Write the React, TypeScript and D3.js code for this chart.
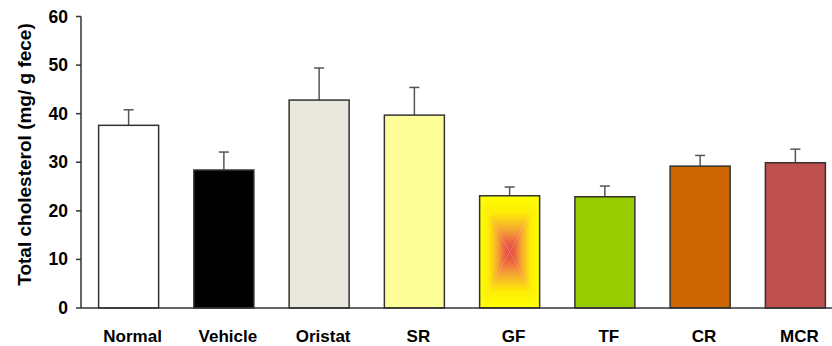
import React from "react";
import * as d3 from "d3";

const categories = ["Normal", "Vehicle", "Oristat", "SR", "GF", "TF", "CR", "MCR"];
const means = [37.6, 28.4, 42.8, 39.7, 23.1, 22.9, 29.2, 29.9];
const errors = [3.2, 3.7, 6.6, 5.7, 1.8, 2.2, 2.2, 2.8];
const colors = ["#ffffff", "#000000", "#eae8dc", "#ffff99", "url(#gfgrad)", "#99cc00", "#cc6600", "#c0504d"];
const yTicks = [0, 10, 20, 30, 40, 50, 60];

const W = 832, H = 346;
const left = 81, right = 843, top = 16.5, bottom = 308;

const stops = [
  { o: 0, c: "#ffff00" },
  { o: 0.3, c: "#fded05" },
  { o: 0.6, c: "#f6a832" },
  { o: 0.85, c: "#ec5e42" },
  { o: 1, c: "#e84848" },
];

function Grad({ id, x1, y1, x2, y2 }: { id: string; x1: string; y1: string; x2: string; y2: string }) {
  return (
    <linearGradient id={id} x1={x1} y1={y1} x2={x2} y2={y2}>
      {stops.map((s) => (
        <stop key={s.o} offset={s.o} stopColor={s.c} />
      ))}
    </linearGradient>
  );
}

export default function App() {
  const x = d3.scaleBand<string>().domain(categories).range([left, right]).paddingInner(0.37).paddingOuter(0.185);
  const y = d3.scaleLinear().domain([0, 60]).range([bottom, top]);
  const bw = x.bandwidth();
  const font = "Arial, 'Liberation Sans', sans-serif";
  return (
    <svg width={W} height={H} style={{ position: "absolute", left: 0, top: 0, background: "#fff" }} fontFamily={font}>
      <defs>
        <Grad id="gTop" x1="0" y1="0" x2="0" y2="1" />
        <Grad id="gBot" x1="0" y1="1" x2="0" y2="0" />
        <Grad id="gLeft" x1="0" y1="0" x2="1" y2="0" />
        <Grad id="gRight" x1="1" y1="0" x2="0" y2="0" />
      </defs>
      {/* y axis title */}
      <text transform={`translate(31,154.5) rotate(-90)`} textAnchor="middle" fontWeight="bold" fontSize={19} fill="#000">
        Total cholesterol (mg/ g fece)
      </text>
      {/* bars */}
      {categories.map((c, i) => {
        const x0 = x(c)!;
        const y0 = y(means[i]);
        const h = bottom - y0;
        const cx = x0 + bw / 2;
        const ey = y(means[i] + errors[i]);
        const errMarks = (
          <>
            <line x1={cx} x2={cx} y1={y0} y2={ey} stroke="#555" strokeWidth={1.5} />
            <line x1={cx - 5} x2={cx + 5} y1={ey} y2={ey} stroke="#555" strokeWidth={1.5} />
          </>
        );
        if (colors[i].startsWith("url")) {
          return (
            <g key={c}>
              {errMarks}
              <g transform={`translate(${x0},${y0})`}>
                <polygon points={`0,0 ${bw},0 ${bw / 2},${h / 2}`} fill="url(#gTop)" />
                <polygon points={`0,${h} ${bw},${h} ${bw / 2},${h / 2}`} fill="url(#gBot)" />
                <polygon points={`0,0 0,${h} ${bw / 2},${h / 2}`} fill="url(#gLeft)" />
                <polygon points={`${bw},0 ${bw},${h} ${bw / 2},${h / 2}`} fill="url(#gRight)" />
              </g>
              <rect x={x0} y={y0} width={bw} height={h} fill="none" stroke="#333" strokeWidth={1.5} />
            </g>
          );
        }
        return (
          <g key={c}>
            {errMarks}
            <rect x={x0} y={y0} width={bw} height={h} fill={colors[i]} stroke="#333" strokeWidth={1.5} />
          </g>
        );
      })}
      {/* y axis */}
      <line x1={left} x2={left} y1={top} y2={bottom} stroke="#333" strokeWidth={1.5} />
      {yTicks.map((t) => (
        <g key={t}>
          <line x1={left - 5} x2={left} y1={y(t)} y2={y(t)} stroke="#333" strokeWidth={1.5} />
          <text x={left - 13} y={y(t) + 6} textAnchor="end" fontWeight="bold" fontSize={17.5} fill="#000">{t}</text>
        </g>
      ))}
      {/* x axis */}
      <line x1={left} x2={right} y1={bottom} y2={bottom} stroke="#333" strokeWidth={1.5} />
      {categories.map((c) => (
        <text key={c} x={x(c)! + bw / 2 + 4} y={342} textAnchor="middle" fontWeight="bold" fontSize={17} fill="#000">{c}</text>
      ))}
    </svg>
  );
}
